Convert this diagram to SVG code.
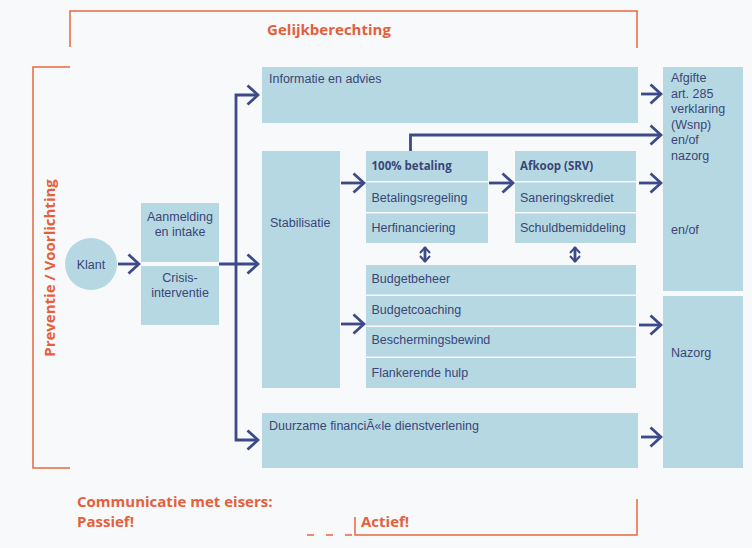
<svg xmlns="http://www.w3.org/2000/svg" width="752" height="548" viewBox="0 0 752 548">
<style>
.bg{fill:#f7f9fa}
.box{fill:#b6d8e3}
.t{font-family:"Liberation Sans",Arial,sans-serif;font-size:12.5px;fill:#3b4677}
.tb{font-family:"Open Sans","Liberation Sans",sans-serif;font-size:11.5px;font-weight:700;fill:#3b4677}
.o{font-family:"Open Sans","Liberation Sans",sans-serif;font-size:15px;font-weight:700;fill:#e5603a}
.br{fill:none;stroke:#e9683f;stroke-width:1.5}
.c{fill:none;stroke:#3d4a8a;stroke-width:2.8}
</style>
<defs>
<marker id="ah" viewBox="0 0 14 22" refX="12" refY="11" markerWidth="14" markerHeight="22" markerUnits="userSpaceOnUse" orient="auto">
<path d="M1.5,1.5 L12,11 L1.5,20.5" fill="none" stroke="#3d4a8a" stroke-width="2.8"/>
</marker>
<marker id="sh" viewBox="0 0 8 12" refX="7" refY="6" markerWidth="8" markerHeight="12" markerUnits="userSpaceOnUse" orient="auto-start-reverse">
<path d="M1,1 L6.5,6 L1,11" fill="none" stroke="#3d4a8a" stroke-width="2"/>
</marker>
</defs>
<rect class="bg" x="0" y="0" width="752" height="548"/>

<g id="brackets">
<path class="br" d="M70,47 V11 H637 V48"/>
<path class="br" d="M70,67 H33 V468 H70"/>
<path class="br" d="M637,499 V535 H355 V517"/>
<path class="br" d="M307,535 H352" stroke-dasharray="7,12"/>
</g>
<g id="labels">
<text class="o" x="329" y="35" text-anchor="middle">Gelijkberechting</text>
<text class="o" x="0" y="0" text-anchor="middle" transform="translate(55,268) rotate(-90)">Preventie / Voorlichting</text>
<text class="o" x="77" y="507">Communicatie met eisers:</text>
<text class="o" x="77" y="527">Passief!</text>
<text class="o" x="361" y="527">Actief!</text>
</g>

<g id="klant">
<circle class="box" cx="91" cy="264" r="26"/>
<text class="t" x="91" y="268.5" text-anchor="middle">Klant</text>
</g>
<g id="aanmelding">
<rect class="box" x="141" y="203" width="78" height="59"/>
<text class="t" x="180" y="221" text-anchor="middle">Aanmelding</text>
<text class="t" x="180" y="236" text-anchor="middle">en intake</text>
</g>
<g id="crisis">
<rect class="box" x="141" y="266" width="78" height="59"/>
<text class="t" x="180" y="282" text-anchor="middle">Crisis-</text>
<text class="t" x="180" y="297" text-anchor="middle">interventie</text>
</g>
<g id="informatie">
<rect class="box" x="262" y="67" width="376" height="56"/>
<text class="t" x="269" y="82.5">Informatie en advies</text>
</g>
<g id="stabilisatie">
<rect class="box" x="262" y="151" width="78" height="237"/>
<text class="t" x="270" y="227">Stabilisatie</text>
</g>
<g id="betaling">
<rect class="box" x="366" y="151" width="122" height="30"/>
<text class="tb" x="371.5" y="169.5">100% betaling</text>
<rect class="box" x="366" y="182.5" width="122" height="29.5"/>
<text class="t" x="371.5" y="202">Betalingsregeling</text>
<rect class="box" x="366" y="213.5" width="122" height="29.5"/>
<text class="t" x="371.5" y="232">Herfinanciering</text>
</g>
<g id="afkoop">
<rect class="box" x="515" y="151" width="121" height="30"/>
<text class="tb" x="520" y="169.5">Afkoop (SRV)</text>
<rect class="box" x="515" y="182.5" width="121" height="29.5"/>
<text class="t" x="520" y="202">Saneringskrediet</text>
<rect class="box" x="515" y="213.5" width="121" height="29.5"/>
<text class="t" x="520" y="232">Schuldbemiddeling</text>
</g>
<g id="budget">
<rect class="box" x="366" y="265" width="270" height="29.5"/>
<text class="t" x="371.5" y="283">Budgetbeheer</text>
<rect class="box" x="366" y="296" width="270" height="29.5"/>
<text class="t" x="371.5" y="314">Budgetcoaching</text>
<rect class="box" x="366" y="327" width="270" height="29.5"/>
<text class="t" x="371.5" y="344">Beschermingsbewind</text>
<rect class="box" x="366" y="358" width="270" height="30"/>
<text class="t" x="371.5" y="377">Flankerende hulp</text>
</g>
<g id="duurzaam">
<rect class="box" x="262" y="413" width="376" height="55"/>
<text class="t" x="269" y="430">Duurzame financiÃ«le dienstverlening</text>
</g>
<g id="afgifte">
<rect class="box" x="663" y="67" width="80" height="224"/>
<text class="t" x="671" y="82">Afgifte</text>
<text class="t" x="671" y="97.5">art. 285</text>
<text class="t" x="671" y="113">verklaring</text>
<text class="t" x="671" y="128.5">(Wsnp)</text>
<text class="t" x="671" y="144">en/of</text>
<text class="t" x="671" y="159.5">nazorg</text>
<text class="t" x="671" y="234">en/of</text>
</g>
<g id="nazorg">
<rect class="box" x="663" y="296" width="80" height="172"/>
<text class="t" x="671" y="357">Nazorg</text>
</g>

<g id="connectors">
<path class="c" d="M118,264 H139" marker-end="url(#ah)"/>
<path class="c" d="M219,264 H258" marker-end="url(#ah)"/>
<path class="c" d="M236,264 V95 H258" marker-end="url(#ah)"/>
<path class="c" d="M236,264 V440 H258" marker-end="url(#ah)"/>
<path class="c" d="M641,94 H661" marker-end="url(#ah)"/>
<path class="c" d="M410.5,151 V135 H661" marker-end="url(#ah)"/>
<path class="c" d="M341,183 H364" marker-end="url(#ah)"/>
<path class="c" d="M489,183 H513" marker-end="url(#ah)"/>
<path class="c" d="M639,183 H661" marker-end="url(#ah)"/>
<path class="c" d="M341,324 H364" marker-end="url(#ah)"/>
<path class="c" d="M639,325 H661" marker-end="url(#ah)"/>
<path class="c" d="M641,437 H661" marker-end="url(#ah)"/>
<path class="c" d="M425,247 V262" stroke-width="2" marker-start="url(#sh)" marker-end="url(#sh)"/>
<path class="c" d="M575,247 V262" stroke-width="2" marker-start="url(#sh)" marker-end="url(#sh)"/>
</g>
</svg>
